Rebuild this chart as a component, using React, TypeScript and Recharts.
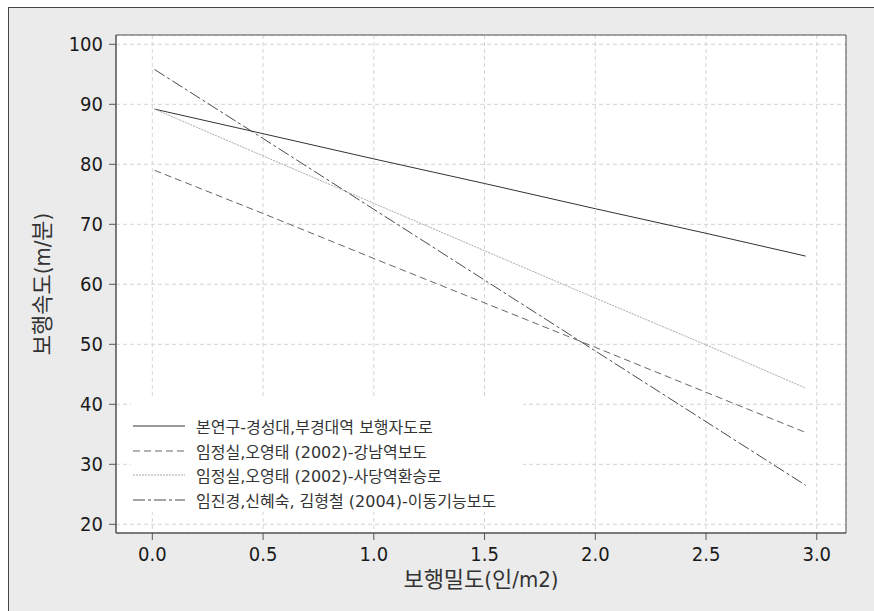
import React from "react";
import {
  LineChart,
  Line,
  XAxis,
  YAxis,
  CartesianGrid,
  ReferenceArea,
} from "recharts";

// 보행밀도 (인/m2)
const densities = [0.01, 0.5, 1.0, 1.5, 2.0, 2.5, 2.95];

// 보행속도 (m/분)
const thisStudy = [89.2, 85.1, 80.9, 76.8, 72.6, 68.5, 64.7];
const gangnam = [79.0, 71.8, 64.3, 56.9, 49.5, 42.0, 35.3];
const sadang = [89.2, 81.4, 73.5, 65.6, 57.7, 49.9, 42.7];
const idong = [95.8, 84.3, 72.5, 60.7, 48.9, 37.1, 26.5];

const seriesNames = [
  "본연구-경성대,부경대역 보행자도로",
  "임정실,오영태 (2002)-강남역보도",
  "임정실,오영태 (2002)-사당역환승로",
  "임진경,신혜숙, 김형철 (2004)-이동기능보도",
];

const xTicks = [0, 0.5, 1.0, 1.5, 2.0, 2.5, 3.0];
const yTicks = [20, 30, 40, 50, 60, 70, 80, 90, 100];

const X_DOMAIN: [number, number] = [-0.164, 3.132];
const Y_DOMAIN: [number, number] = [18.55, 101.55];

const STYLES = [
  { key: "s1", stroke: "#333333", dash: undefined },
  { key: "s2", stroke: "#666666", dash: "7 4" },
  { key: "s3", stroke: "#aaaaaa", dash: "2 1" },
  { key: "s4", stroke: "#4a4a4a", dash: "12 3 3 3" },
];

const data = densities.map((x, i) => ({
  x,
  s1: thisStudy[i],
  s2: gangnam[i],
  s3: sadang[i],
  s4: idong[i],
}));

const FONT = '"DejaVu Sans", "Noto Sans CJK KR", sans-serif';
const textCss = { fontFamily: FONT, fontStretch: "condensed" as const };
const tickStyle = { fontSize: 20, fill: "#1a1a1a", style: textCss };

function ChartLegend() {
  return (
    <div
      style={{
        position: "absolute",
        left: 122,
        top: 388,
        width: 392,
        height: 116,
        background: "#fff",
        paddingTop: 18,
        boxSizing: "border-box",
        fontFamily: FONT,
        fontSize: 16,
        color: "#333",
      }}
    >
      {seriesNames.map((name, i) => (
        <div
          key={name}
          style={{ display: "flex", alignItems: "center", height: 24.5 }}
        >
          <svg width={54} height={4} style={{ marginLeft: 2, marginRight: 9 }}>
            <line
              x1={0}
              y1={2}
              x2={52}
              y2={2}
              stroke={STYLES[i].stroke}
              strokeWidth={1}
              strokeDasharray={STYLES[i].dash}
            />
          </svg>
          <span style={{ whiteSpace: "nowrap" }}>{name}</span>
        </div>
      ))}
    </div>
  );
}

export default function App() {
  return (
    <>
      <style>{"html,body{overflow:hidden}"}</style>
      <div
        style={{
          position: "absolute",
          left: 8,
          top: 7,
          width: 865,
          height: 603,
          background: "#ebebeb",
          borderTop: "1px solid #444",
          borderLeft: "1px solid #444",
        }}
      >
        <LineChart
          width={865}
          height={603}
          data={data}
          margin={{ top: 27, right: 28, bottom: 18, left: 20 }}
        >
          <CartesianGrid
            fill="#ffffff"
            stroke="#d4d4d4"
            strokeDasharray="4 3"
          />
          <XAxis
            dataKey="x"
            type="number"
            domain={X_DOMAIN}
            ticks={xTicks}
            allowDataOverflow
            tickFormatter={(v: number) => v.toFixed(1)}
            tick={tickStyle}
            tickSize={7}
            tickMargin={7}
            height={60}
            stroke="#555"
            label={{
              value: "보행밀도(인/m2)",
              position: "insideBottom",
              offset: 6,
              style: { fontSize: 22, fill: "#333", ...textCss },
            }}
          />
          <YAxis
            type="number"
            domain={Y_DOMAIN}
            ticks={yTicks}
            allowDataOverflow
            tick={tickStyle}
            tickSize={7}
            tickMargin={6}
            width={87}
            stroke="#555"
            label={{
              value: "보행속도(m/분)",
              angle: -90,
              position: "insideLeft",
              offset: 13,
              style: {
                fontSize: 22,
                fill: "#333",
                ...textCss,
                textAnchor: "middle",
              },
            }}
          />
          <ReferenceArea
            x1={X_DOMAIN[0]}
            x2={X_DOMAIN[1]}
            y1={Y_DOMAIN[0]}
            y2={Y_DOMAIN[1]}
            fill="none"
            fillOpacity={0}
            stroke="#555"
            strokeWidth={1}
          />
          {STYLES.map((s) => (
            <Line
              key={s.key}
              dataKey={s.key}
              type="linear"
              stroke={s.stroke}
              strokeWidth={1}
              strokeDasharray={s.dash}
              dot={false}
              activeDot={false}
              isAnimationActive={false}
            />
          ))}
        </LineChart>
        <ChartLegend />
      </div>
    </>
  );
}
